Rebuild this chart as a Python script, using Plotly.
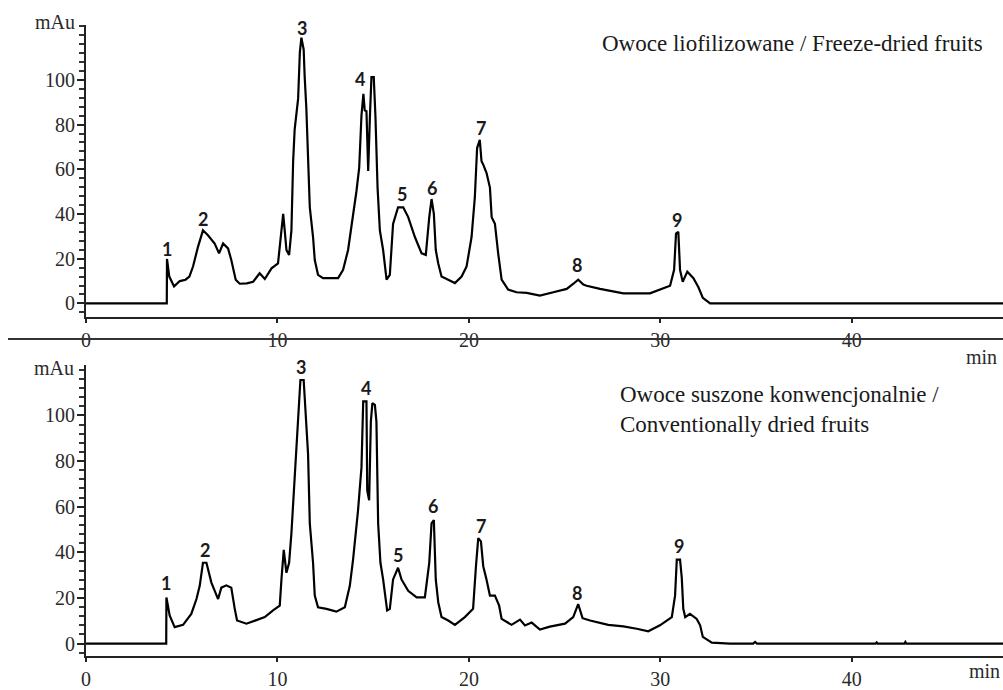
import plotly.graph_objects as go

# ---------------- data ----------------
time_freeze = [0, 4.22, 4.23, 4.35, 4.6, 4.9, 5.2, 5.4, 5.59, 5.85, 6.11, 6.37, 6.72, 6.95, 7.16, 7.42, 7.59, 7.82, 8.03, 8.4,
               8.73, 9.07, 9.34, 9.69, 10.03, 10.21, 10.30, 10.38, 10.47, 10.61, 10.73, 10.82, 10.90, 11.08, 11.17, 11.25,
               11.37, 11.42, 11.51, 11.60, 11.69, 11.86, 11.95, 12.12, 12.38, 13.17, 13.43, 13.69, 13.87, 14.13, 14.27,
               14.39, 14.49, 14.56, 14.65, 14.74, 14.83, 14.91, 15.03, 15.12, 15.23, 15.35, 15.52, 15.70, 15.87, 16.04,
               16.30, 16.57, 16.83, 17.18, 17.53, 17.75, 17.93, 18.05, 18.17, 18.27, 18.40, 18.57, 18.92, 19.27, 19.62,
               19.88, 20.14, 20.31, 20.43, 20.57, 20.66, 20.75, 20.92, 21.10, 21.19, 21.36, 21.53, 21.71, 22.05, 22.49,
               23.02, 23.71, 24.41, 25.11, 25.46, 25.71, 25.98, 26.15, 26.85, 28.07, 29.46, 30.07, 30.51, 30.72, 30.82,
               30.94, 31.03, 31.17, 31.41, 31.73, 31.99, 32.22, 32.60, 48]
mau_freeze = [0, 0, 19.9, 12, 7.6, 10, 10.6, 12, 16.5, 25.3, 32.7, 30.5, 26.8, 22.4, 26.8, 24.6, 19.4, 10.6, 8.8, 9,
              9.7, 13.5, 10.9, 15.7, 17.9, 32.7, 40.1, 32.7, 23.9, 21.7, 32.7, 63.6, 77.9, 91.6, 112.2, 118.9,
              113.6, 101.9, 87.2, 65.1, 43, 29.7, 19.4, 12.8, 11.3, 11.3, 15, 23.9, 34.2, 50.4, 60.7,
              84.2, 93.8, 86.4, 86, 59.2, 83.5, 101.2, 101.2, 83.5, 51.8, 32.7, 23.9, 10.6, 12.8, 35.6,
              43, 43, 38.6, 29.7, 22.4, 21.7, 38.6, 46.7, 40.1, 23.9, 17.9, 12, 10.6, 9.1, 12,
              16.5, 29.7, 47.4, 69.5, 73.2, 63.6, 62.1, 58.4, 51.8, 38.6, 35.6, 22.4, 10.6, 6.2, 5.0,
              4.7, 3.5, 5.0, 6.5, 8.8, 10.6, 8.4, 7.9, 6.5, 4.5, 4.5, 6.5, 7.9, 15, 31.2,
              32.0, 15, 9.7, 14.2, 11.3, 7.2, 2.5, 0, 0]

time_conv = [0, 4.19, 4.20, 4.37, 4.63, 5.07, 5.50, 5.77, 5.94, 6.11, 6.29, 6.55, 6.90, 7.07, 7.33, 7.59, 7.77, 7.89, 8.38,
             8.90, 9.34, 9.77, 10.12, 10.21, 10.33, 10.47, 10.61, 10.73, 10.87, 10.99, 11.11, 11.20, 11.37, 11.46, 11.60,
             11.69, 11.86, 11.95, 12.12, 12.56, 13.08, 13.52, 13.78, 13.95, 14.21, 14.39, 14.48, 14.65, 14.69, 14.79,
             14.88, 14.96, 15.09, 15.17, 15.26, 15.38, 15.52, 15.73, 15.87, 16.04, 16.30, 16.48, 16.83, 17.27, 17.70,
             17.93, 18.05, 18.17, 18.27, 18.40, 18.57, 18.92, 19.27, 19.79, 20.22, 20.37, 20.49, 20.63, 20.75, 20.92,
             21.10, 21.36, 21.58, 21.71, 22.23, 22.67, 22.93, 23.28, 23.71, 24.23, 25.02, 25.45, 25.71, 25.94, 26.33,
             27.28, 28.07, 28.77, 29.37, 29.98, 30.60, 30.77, 30.86, 31.03, 31.12, 31.20, 31.30, 31.55, 31.90, 32.08,
             32.22, 32.69, 33.64, 34.85, 34.95, 35.05, 41.25, 41.3, 41.35, 42.75, 42.8, 42.85, 48]
mau_conv = [0, 0, 20.2, 12.3, 7.2, 8.2, 13, 19.5, 25.3, 35.4, 35.4, 26.7, 19.5, 24.5, 25.5, 24.5, 15.2, 10.1, 8.7,
            10.1, 11.6, 14.5, 16.6, 28.1, 41.1, 31.0, 35.4, 48.4, 67.1, 85.2, 101.7, 115.5, 115.5, 101.7, 83,
            52.7, 35.4, 21, 15.9, 15.2, 14, 15.9, 25.3, 36.8, 58.4, 77.2, 106.1, 106.1, 67.1, 62.8,
            97.4, 105.4, 104.6, 97.4, 52.7, 35.4, 28.1, 14.5, 15.2, 28.1, 33.2, 28.1, 23.1, 20.2, 20.2,
            35.4, 52.7, 54.1, 28.1, 18.1, 11.6, 10.1, 8.2, 11.6, 15.2, 33.9, 46.2, 44.8, 33.9, 28.1,
            21, 21, 16.6, 10.8, 8.2, 10.5, 7.9, 9.2, 6.1, 7.4, 8.7, 11.6, 17.3, 11.1, 10.1,
            8.2, 7.5, 6.5, 5.4, 8, 11.6, 21, 36.8, 36.8, 28.9, 15.2, 11.6, 13, 10.8, 8,
            2.9, 0.4, 0, 0, 0.7, 0, 0, 0.5, 0, 0, 0.7, 0, 0]

peak_names = ["1", "2", "3", "4", "5", "6", "7", "8", "9"]
label_t_freeze = [4.22, 6.11, 11.27, 14.30, 16.51, 18.05, 20.61, 25.66, 30.89]
label_v_freeze = [24.4, 37.8, 123.0, 100.4, 48.9, 51.5, 78.3, 17.2, 37.4]
label_t_conv = [4.20, 6.20, 11.25, 14.65, 16.30, 18.14, 20.61, 25.66, 30.99]
label_v_conv = [26.7, 41.1, 121.2, 112.1, 39.0, 60.2, 51.3, 22.1, 42.6]

x_ticks = [0, 10, 20, 30, 40]
# every y tick position (step 4) and the text shown at it (labels only every 20)
y_tick_vals = [-4, 0, 4, 8, 12, 16, 20, 24, 28, 32, 36, 40, 44, 48, 52, 56, 60, 64, 68, 72, 76,
               80, 84, 88, 92, 96, 100, 104, 108, 112, 116, 120, 124]
y_tick_text = ["", "0", "", "", "", "", "20", "", "", "", "", "40", "", "", "", "", "60", "", "", "", "",
               "80", "", "", "", "", "100", "", "", "", "", "", ""]
y_major_ticks = [0, 20, 40, 60, 80, 100]

title_freeze = "Owoce liofilizowane / Freeze-dried fruits"
title_conv = "Owoce suszone konwencjonalnie /<br>Conventionally dried fruits"

# ---------------- figure ----------------
SERIF = "Liberation Serif, Times New Roman, serif"
TXT = "#2a2a2a"

fig = go.Figure()
fig.add_trace(go.Scatter(x=time_freeze, y=mau_freeze, mode="lines", xaxis="x", yaxis="y",
                         line=dict(color="black", width=2.2), showlegend=False, hoverinfo="skip"))
fig.add_trace(go.Scatter(x=time_conv, y=mau_conv, mode="lines", xaxis="x2", yaxis="y2",
                         line=dict(color="black", width=2.2), showlegend=False, hoverinfo="skip"))

xcommon = dict(range=[0, 47.9], tickmode="array", tickvals=x_ticks, ticks="outside", ticklen=4, tickwidth=2,
               tickcolor="#222", showline=True, linecolor="#222", linewidth=2, showgrid=False, zeroline=False,
               tickfont=dict(family=SERIF, size=20, color=TXT), fixedrange=True)
# main y axes: short ticks at every step of 4, labels every 20
ycommon = dict(tickmode="array", tickvals=y_tick_vals, ticktext=y_tick_text, ticks="outside", ticklen=5,
               tickwidth=2, tickcolor="#333", showline=True, linecolor="#222", linewidth=2, showgrid=False,
               zeroline=False, tickfont=dict(family=SERIF, size=20, color=TXT), fixedrange=True)
# overlay axes: longer major ticks only
ymajor = dict(tickmode="array", tickvals=y_major_ticks, ticks="outside", ticklen=8, tickwidth=2.2,
              tickcolor="#222", showticklabels=False, showline=False, showgrid=False, zeroline=False,
              side="left", fixedrange=True)

top_dom = [1 - 321 / 690, 1 - 25 / 690]
bot_dom = [1 - 665 / 690, 1 - 370 / 690]
top_rng = [-6.0, 124.7]
bot_rng = [-5.6, 122.0]

fig.update_layout(
    width=1003, height=690,
    margin=dict(l=86, r=0, t=0, b=0),
    paper_bgcolor="white", plot_bgcolor="white",
    xaxis=dict(domain=[0, 1], anchor="y", **xcommon),
    yaxis=dict(domain=top_dom, anchor="x", range=top_rng, **ycommon),
    xaxis2=dict(domain=[0, 1], anchor="y2", **xcommon),
    yaxis2=dict(domain=bot_dom, anchor="x2", range=bot_rng, **ycommon),
    yaxis3=dict(domain=top_dom, anchor="x", overlaying="y", range=top_rng, **ymajor),
    yaxis4=dict(domain=bot_dom, anchor="x2", overlaying="y2", range=bot_rng, **ymajor),
)
fig.add_trace(go.Scatter(x=[None], y=[None], xaxis="x", yaxis="y3", showlegend=False, hoverinfo="skip"))
fig.add_trace(go.Scatter(x=[None], y=[None], xaxis="x2", yaxis="y4", showlegend=False, hoverinfo="skip"))

ann = []
lab_font = dict(family="Lato, Noto Sans, sans-serif", size=18, color="#1a1a1a")
for name, t, v in zip(peak_names, label_t_freeze, label_v_freeze):
    ann.append(dict(x=t, y=v, xref="x", yref="y", text="<b>%s</b>" % name, showarrow=False, font=lab_font))
for name, t, v in zip(peak_names, label_t_conv, label_v_conv):
    ann.append(dict(x=t, y=v, xref="x2", yref="y2", text="<b>%s</b>" % name, showarrow=False, font=lab_font))

serif20 = dict(family=SERIF, size=20, color=TXT)
ann += [
    dict(x=0, y=1 - 25 / 690, xref="paper", yref="paper", text="mAu", showarrow=False,
         xanchor="right", yanchor="middle", xshift=-9, yshift=3, font=serif20),
    dict(x=0, y=1 - 370 / 690, xref="paper", yref="paper", text="mAu", showarrow=False,
         xanchor="right", yanchor="middle", xshift=-10, yshift=-3, font=serif20),
    dict(x=(981 - 86) / 917, y=1 - 362 / 690, xref="paper", yref="paper", text="min", showarrow=False,
         xanchor="center", yanchor="middle", font=serif20),
    dict(x=(984 - 86) / 917, y=1 - 680 / 690, xref="paper", yref="paper", text="min", showarrow=False,
         xanchor="center", yanchor="middle", font=serif20),
    dict(x=(600 - 86) / 917, y=1 - 44 / 690, xref="paper", yref="paper", text=title_freeze, showarrow=False,
         xanchor="left", yanchor="middle", font=dict(family=SERIF, size=23, color="#1a1a1a")),
    dict(x=(618 - 86) / 917, y=1 - 415 / 690, xref="paper", yref="paper", text=title_conv, showarrow=False,
         xanchor="left", yanchor="middle", align="left", font=dict(family=SERIF, size=23, color="#1a1a1a")),
]
fig.update_layout(annotations=ann)

fig.add_shape(type="line", xref="paper", yref="paper", x0=(8 - 86) / 917, x1=1.0,
              y0=1 - 343.5 / 690, y1=1 - 343.5 / 690, line=dict(color="#333", width=2))

fig.write_html("out.html", config={"displayModeBar": False},
               post_script="document.body.style.margin='0';document.body.style.overflow='hidden';")
